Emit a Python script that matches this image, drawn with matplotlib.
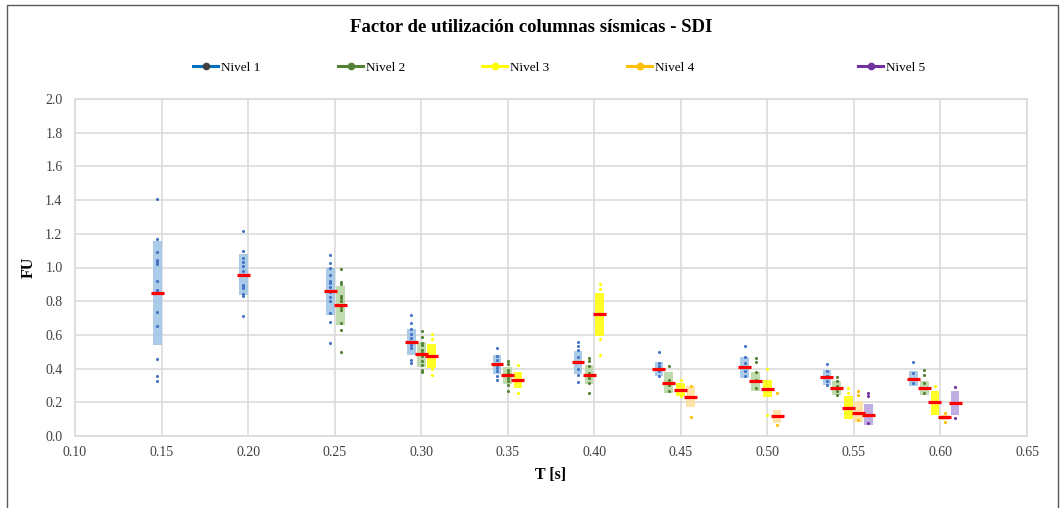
import matplotlib
matplotlib.use("Agg")
import matplotlib.pyplot as plt
from matplotlib.lines import Line2D
from matplotlib.patches import Rectangle

plt.rcParams['font.family'] = ['Liberation Serif', 'DejaVu Serif']

# Nivel 1
x1 = [0.1475, 0.1973, 0.2475, 0.2944, 0.3438, 0.3906, 0.4373, 0.4868, 0.5344, 0.5843]
low1 = [0.543, 0.838, 0.718, 0.479, 0.370, 0.370, 0.354, 0.342, 0.304, 0.298]
high1 = [1.156, 1.081, 0.995, 0.637, 0.482, 0.507, 0.440, 0.466, 0.390, 0.386]
mean1 = [0.850, 0.957, 0.858, 0.557, 0.426, 0.438, 0.400, 0.408, 0.350, 0.338]
pts1 = [
    [1.407, 1.168, 1.092, 1.045, 1.035, 1.019, 0.918, 0.866, 0.858, 0.733, 0.653, 0.458, 0.354, 0.324],
    [1.214, 1.097, 1.055, 1.035, 1.007, 0.977, 0.896, 0.888, 0.878, 0.842, 0.828, 0.712],
    [1.073, 1.025, 0.995, 0.957, 0.921, 0.907, 0.882, 0.852, 0.826, 0.802, 0.728, 0.679, 0.553],
    [0.716, 0.673, 0.637, 0.607, 0.583, 0.539, 0.523, 0.454, 0.432],
    [0.525, 0.473, 0.454, 0.424, 0.404, 0.384, 0.358, 0.334],
    [0.559, 0.537, 0.513, 0.470, 0.438, 0.398, 0.364, 0.318],
    [0.501, 0.434, 0.414, 0.384, 0.354],
    [0.533, 0.470, 0.434, 0.384, 0.354],
    [0.430, 0.384, 0.354, 0.324, 0.304],
    [0.438, 0.374, 0.315],
]

# Nivel 2
x2 = [0.2535, 0.3003, 0.3500, 0.3970, 0.4430, 0.4932, 0.5400, 0.5906]
low2 = [0.659, 0.412, 0.309, 0.309, 0.255, 0.265, 0.245, 0.245]
high2 = [0.891, 0.559, 0.410, 0.420, 0.378, 0.380, 0.324, 0.324]
mean2 = [0.776, 0.488, 0.360, 0.364, 0.316, 0.324, 0.287, 0.287]
pts2 = [
    [0.989, 0.913, 0.901, 0.832, 0.818, 0.802, 0.766, 0.748, 0.669, 0.627, 0.500],
    [0.623, 0.587, 0.553, 0.539, 0.513, 0.494, 0.473, 0.444, 0.424, 0.390, 0.378],
    [0.448, 0.428, 0.394, 0.374, 0.344, 0.328, 0.304, 0.265],
    [0.462, 0.444, 0.414, 0.374, 0.344, 0.315, 0.255],
    [0.414, 0.334, 0.304, 0.265],
    [0.462, 0.438, 0.380, 0.334, 0.285],
    [0.350, 0.324, 0.294, 0.265, 0.241],
    [0.394, 0.364, 0.315, 0.255],
]

# Nivel 3
x3 = [0.3061, 0.3559, 0.4032, 0.4499, 0.5000, 0.5468, 0.5968]
low3 = [0.404, 0.285, 0.593, 0.235, 0.229, 0.100, 0.125]
high3 = [0.545, 0.378, 0.848, 0.315, 0.334, 0.239, 0.269]
mean3 = [0.473, 0.332, 0.722, 0.273, 0.281, 0.167, 0.201]
pts3 = [
    [0.607, 0.573, 0.398, 0.364],
    [0.424, 0.255],
    [0.903, 0.872, 0.573, 0.478],
    [0.330, 0.235],
    [0.398, 0.125],
    [0.285, 0.255],
    [0.294],
]

# Nivel 4
x4 = [0.4557, 0.5056, 0.5525, 0.6025]
low4 = [0.171, 0.076, 0.086, 0.096]
high4 = [0.294, 0.155, 0.205, 0.125]
mean4 = [0.229, 0.118, 0.139, 0.112]
pts4 = [
    [0.298, 0.115],
    [0.253, 0.066],
    [0.265, 0.245, 0.096],
    [0.139, 0.086],
]

# Nivel 5
x5 = [0.5583, 0.6085]
low5 = [0.066, 0.125]
high5 = [0.191, 0.265]
mean5 = [0.125, 0.197]
pts5 = [
    [0.255, 0.235, 0.076],
    [0.288, 0.106],
]

levels = [
    ("Nivel 1", x1, low1, high1, mean1, pts1, "#9DC3E6", "#4472C4", "#0070C0", "#404040"),
    ("Nivel 2", x2, low2, high2, mean2, pts2, "#B5D5A0", "#548235", "#548235", "#548235"),
    ("Nivel 3", x3, low3, high3, mean3, pts3, "#FFFF00", "#FFFF00", "#FFFF00", "#FFFF00"),
    ("Nivel 4", x4, low4, high4, mean4, pts4, "#FFDF9A", "#FFC000", "#FFC000", "#FFC000"),
    ("Nivel 5", x5, low5, high5, mean5, pts5, "#B4A0DC", "#7030A0", "#7030A0", "#7030A0"),
]

fig = plt.figure(figsize=(10.63, 5.08), dpi=100)
ax = fig.add_axes([75 / 1063, 1 - 436 / 508, (1027 - 75) / 1063, (436 - 99) / 508])

box_w = 0.005
red_w = 0.0075
for name, xs, lo, hi, mu, pts, fc, pc, lc, mc in levels:
    heights = [h - l for l, h in zip(lo, hi)]
    ax.bar(xs, heights, bottom=lo, width=box_w, color=fc, alpha=0.85, zorder=2)
    for x, vals in zip(xs, pts):
        ax.scatter([x] * len(vals), vals, s=5, color=pc, linewidths=0, zorder=3)
    ax.hlines(mu, [x - red_w / 2 for x in xs], [x + red_w / 2 for x in xs],
              color="#FF0000", lw=2.3, zorder=4)

ax.set_xlim(0.10, 0.65)
ax.set_ylim(0.0, 2.0)
ax.set_xticks([0.10 + 0.05 * i for i in range(12)])
ax.set_yticks([0.2 * i for i in range(11)])
ax.xaxis.set_major_formatter(plt.FormatStrFormatter('%.2f'))
ax.yaxis.set_major_formatter(plt.FormatStrFormatter('%.1f'))
ax.tick_params(length=0, labelsize=10, colors="#404040")
ax.tick_params(axis="y", pad=9)
ax.tick_params(axis="x", pad=7)
ax.grid(True, color="#D9D9D9", lw=1.1, zorder=0)
ax.set_axisbelow(True)
for sp in ax.spines.values():
    sp.set_color("#D9D9D9")
    sp.set_linewidth(1.1)

ax.set_xlabel("T [s]", fontsize=11.5, fontweight="bold", labelpad=6)
ax.set_ylabel("FU", fontsize=11.5, fontweight="bold", labelpad=6)

fig.text(0.5, 1 - 27 / 508, "Factor de utilización columnas sísmicas - SDI",
         ha="center", va="center", fontsize=13.5, fontweight="bold")

# legend entries
leg_x = [193, 338, 482, 627, 858]
for (name, *_rest), lx in zip(levels, leg_x):
    lc, mc = _rest[-2], _rest[-1]
    h = Line2D([], [], color=lc, lw=2.2, marker="o", markersize=4.5,
               markerfacecolor=mc, markeredgecolor=mc)
    fig.legend([h], [name], loc="center left", bbox_to_anchor=(lx / 1063, 1 - 68 / 508),
               frameon=False, fontsize=9.5, handlelength=1.9, handletextpad=0.2,
               borderpad=0, borderaxespad=0)

fig.add_artist(Rectangle((7 / 1063, -0.02), (1058 - 7) / 1063, 1.02 - 5 / 508,
                         transform=fig.transFigure, fill=False,
                         edgecolor="#595959", lw=1.0))

fig.savefig("out.png", dpi=100)
